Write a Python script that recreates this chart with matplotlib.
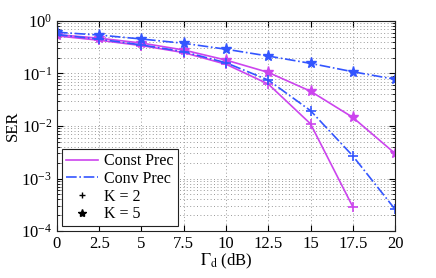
import numpy as np
import matplotlib
matplotlib.use("Agg")
import matplotlib.pyplot as plt
from matplotlib.lines import Line2D

# ------------------------------------------------------------------
# DATA
# ------------------------------------------------------------------
gamma_db = [0, 2.5, 5, 7.5, 10, 12.5, 15, 17.5, 20]

const_k2 = [0.52, 0.43, 0.34, 0.25, 0.15, 0.063, 0.011, 0.00029]
const_k5 = [0.55, 0.47, 0.38, 0.28, 0.18, 0.105, 0.046, 0.0146, 0.003]
conv_k2 = [0.55, 0.45, 0.35, 0.26, 0.16, 0.075, 0.0196, 0.0027, 0.00026]
conv_k5 = [0.61, 0.54, 0.454, 0.376, 0.29, 0.215, 0.156, 0.108, 0.0776]

x_ticks = [0, 2.5, 5, 7.5, 10, 12.5, 15, 17.5, 20]
x_tick_labels = ["0", "2.5", "5", "7.5", "10", "12.5", "15", "17.5", "20"]

MAGENTA = "#cc44ee"
BLUE = "#3355ff"

# ------------------------------------------------------------------
# STYLE
# ------------------------------------------------------------------
plt.rcParams.update({
    "font.family": ["Liberation Serif", "DejaVu Serif"],
    "mathtext.fontset": "stix",
    "font.size": 12,
    "xtick.direction": "in",
    "ytick.direction": "in",
    "xtick.top": True,
    "ytick.right": True,
})

fig = plt.figure(figsize=(4.36, 2.78), dpi=100)
ax = fig.add_axes([0.1307, 0.169, 0.7753, 0.7555])

ax.semilogy(gamma_db[:len(const_k2)], const_k2, color=MAGENTA, lw=1.2,
            marker="+", ms=7, mew=1.2)
ax.semilogy(gamma_db, const_k5, color=MAGENTA, lw=1.2,
            marker="*", ms=8, mec=MAGENTA)
ax.semilogy(gamma_db, conv_k2, color=BLUE, lw=1.2, ls="-.",
            marker="+", ms=7, mew=1.2)
ax.semilogy(gamma_db, conv_k5, color=BLUE, lw=1.2, ls="-.",
            marker="*", ms=8, mec=BLUE)

ax.set_xlim(0, 20)
ax.set_ylim(1e-4, 1)
ax.set_xticks(x_ticks)
ax.set_xticklabels(x_tick_labels)
ax.tick_params(axis="both", which="major", labelsize=12, length=4)
ax.tick_params(axis="y", which="minor", length=2)

grid_kw = dict(color="#999999", lw=0.7, dashes=(1, 2.5))
ax.grid(True, which="major", **grid_kw)
ax.grid(True, which="minor", axis="y", **grid_kw)

for s in ax.spines.values():
    s.set_linewidth(0.8)
    s.set_color("#222222")

ax.set_xlabel(r"$\Gamma_{\rm d}$ (dB)", fontsize=12, labelpad=0)
ax.set_ylabel("SER", fontsize=12, labelpad=0)

handles = [
    Line2D([], [], color=MAGENTA, lw=1.2),
    Line2D([], [], color=BLUE, lw=1.2, ls="-."),
    Line2D([], [], color="black", ls="none", marker="+", ms=5),
    Line2D([], [], color="black", ls="none", marker="*", ms=6),
]
labels = ["Const Prec", "Conv Prec", "K = 2", "K = 5"]
leg = ax.legend(handles, labels, loc="lower left", fontsize=11.5,
                fancybox=False, framealpha=1, edgecolor="#222222",
                handlelength=2.0, handletextpad=0.4, labelspacing=0.1,
                borderpad=0.25, borderaxespad=0.3)
leg.get_frame().set_linewidth(0.8)

fig.savefig("out.png", dpi=100)
